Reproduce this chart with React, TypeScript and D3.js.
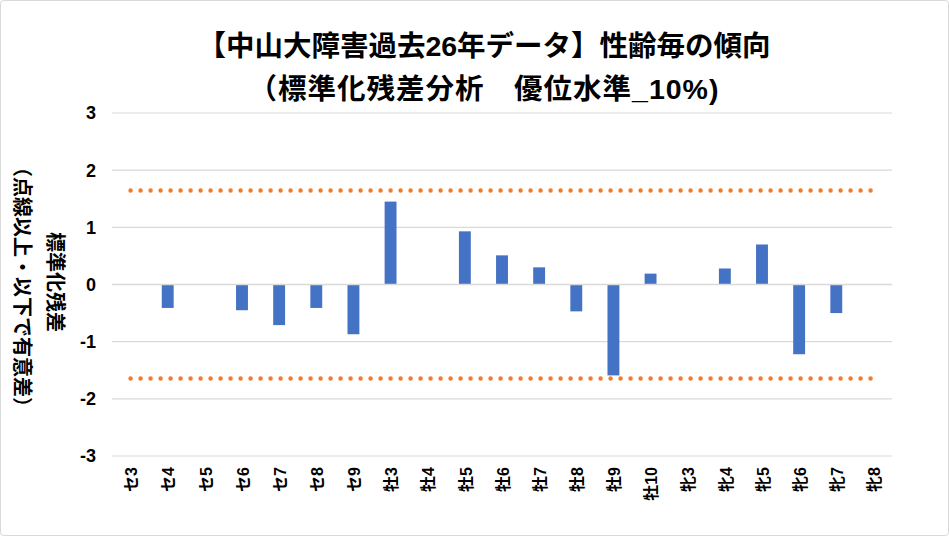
import React from "react";
import * as d3 from "d3";

const categories = ["セ3","セ4","セ5","セ6","セ7","セ8","セ9","牡3","牡4","牡5","牡6","牡7","牡8","牡9","牡10","牝3","牝4","牝5","牝6","牝7","牝8"];
const residuals = [0,-0.41,0,-0.45,-0.71,-0.41,-0.87,1.45,0,0.93,0.51,0.30,-0.47,-1.59,0.19,0,0.28,0.70,-1.22,-0.50,0];
const yTicks = [3,2,1,0,-1,-2,-3];
const thresholds = [1.645,-1.645];
const titleLines = ["【中山大障害過去26年データ】性齢毎の傾向","（標準化残差分析　優位水準_10%)"];
const yTitleLines = ["標準化残差","（点線以上・以下で有意差）"];

const W = 949, H = 536;
const FONT = "'Liberation Sans', 'Noto Sans CJK JP', sans-serif";

export default function App() {
  const x = d3.scaleBand<string>().domain(categories).range([112, 892]).paddingInner(0.68).paddingOuter(0.34);
  const y = d3.scaleLinear().domain([-3, 3]).range([456, 113]);
  const bw = x.bandwidth();
  const xFirst = (x(categories[0]) ?? 0) + bw / 2;
  const xLast = (x(categories[categories.length - 1]) ?? 0) + bw / 2;
  return (
    <svg width={W} height={H} style={{ position: "absolute", left: 0, top: 0, background: "#fff" }} fontFamily={FONT}>
      <rect x={0.5} y={0.5} width={W - 1} height={H - 1} fill="#fff" stroke="#d9d9d9" strokeWidth={1} rx={3} />
      {titleLines.map((t, i) => (
        <text key={t} x={484} y={56 + i * 43} textAnchor="middle" fontSize={28.5} fontWeight="bold" letterSpacing={i === 1 ? 1 : 0} fill="#000">{t}</text>
      ))}
      {yTicks.map((v) => (
        <line key={"g" + v} x1={112} x2={892} y1={y(v)} y2={y(v)} stroke="#d9d9d9" strokeWidth={1.2} />
      ))}
      {yTicks.map((v) => (
        <text key={"t" + v} x={96} y={y(v)} dy="0.36em" textAnchor="end" fontSize={18} fontWeight="bold" fill="#000">{v}</text>
      ))}
      {categories.map((c, i) => {
        const v = residuals[i];
        if (v === 0) return null;
        return (
          <rect key={c} x={x(c)} y={Math.min(y(v), y(0))} width={bw} height={Math.abs(y(v) - y(0))} fill="#4472C4" />
        );
      })}
      <line x1={112} x2={892} y1={y(0)} y2={y(0)} stroke="#d9d9d9" strokeWidth={1.5} />
      {thresholds.map((t) => (
        <line key={"th" + t} x1={xFirst} x2={xLast} y1={y(t)} y2={y(t)} stroke="#ED7D31" strokeWidth={4.5} strokeLinecap="round" strokeDasharray="0 10" />
      ))}
      {categories.map((c) => (
        <text key={"x" + c} transform={`translate(${(x(c) ?? 0) + bw / 2 + 1},467) rotate(-90)`} textAnchor="end" dy="0.36em" fontSize={16} fontWeight="bold" fill="#000">{c}</text>
      ))}
      {yTitleLines.map((t, i) => (
        <text key={t} transform={`translate(${55 - i * 33},${282 + i * 5}) rotate(90)`} textAnchor="middle" dominantBaseline="central" fontSize={20} fontWeight="bold" fill="#000">{t}</text>
      ))}
    </svg>
  );
}
